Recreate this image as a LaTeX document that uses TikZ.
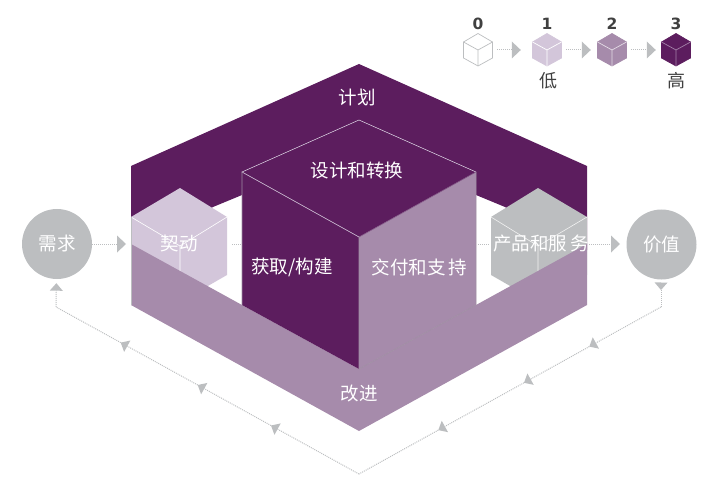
\documentclass[tikz,border=0pt]{standalone}
\usepackage{fontspec}
\setmainfont{Noto Sans CJK SC}
\newfontfamily\numfont{DejaVu Sans}
\usepackage{xcolor}
\definecolor{dark}{RGB}{92,29,94}
\definecolor{mid}{RGB}{166,139,171}
\definecolor{pale}{RGB}{211,198,218}
\definecolor{stone}{RGB}{188,190,192}
\definecolor{ink}{RGB}{64,64,64}
\usetikzlibrary{arrows.meta}
\begin{document}
\begin{tikzpicture}[x=1pt,y=-1pt,
  lab/.style={text=white,font=\fontsize{18.5}{22}\selectfont,inner sep=0pt},
  key/.style={text=ink,font=\fontsize{18}{22}\selectfont,inner sep=0pt},
  num/.style={text=ink,font=\numfont\bfseries\fontsize{15.5}{18}\selectfont,inner sep=0pt},
  round/.style={circle,fill=stone,minimum size=70pt,inner sep=0pt},
  dots/.style={draw=stone,line width=1pt,dash pattern=on 1pt off 1pt},
  flow/.style={dots,-{Triangle[length=9pt,width=17pt,fill=stone,line width=0pt]}},
  back/.style={dots,-{Triangle[length=7.5pt,width=13pt,fill=stone,line width=0pt]}},
  edge/.style={draw=#1,line width=0.6pt},
  level/.style={minimum width=30pt,minimum height=33pt,inner sep=0pt}
]
  \useasboundingbox (0,0) rectangle (720,489);

  \fill[dark] (131,166)--(359,64)--(587,166)--(587,250)--(505,207)--(476,195)--(242,195)--(213,207)--(131,250)--cycle;
  \node[lab] (plan) at (357,97) {计划};

  \fill[pale] (131,217)--(180,188)--(227,217)--(227,275)--(180,302)--(131,275)--cycle;
  \draw[edge=white] (131,217)--(180,246)--(227,217) (180,246)--(180,302);
  \fill[stone] (491,217)--(538,188)--(587,217)--(587,275)--(538,302)--(491,275)--cycle;
  \draw[edge=white!80!stone] (491,217)--(538,246)--(587,217) (538,246)--(538,302);

  \fill[mid] (131,244)--(242,305)--(359,369)--(476,305)--(587,244)--(587,305)--(359,431)--(131,305)--cycle;
  \draw[edge=stone] (131,217)--(131,305);

  \fill[dark] (242,172)--(359,120)--(476,172)--(359,237)--(359,369)--(242,305)--cycle;
  \fill[mid] (476,172)--(359,237)--(359,369)--(476,305)--cycle;
  \draw[edge=pale] (359,237)--(242,172)--(359,120)--(476,172);
  \draw[edge=dark!50!mid] (476,172)--(359,237);
  \draw[edge=stone!70!dark] (242,172)--(242,305) (359,237)--(359,369)--(476,305)--(476,172);

  \node[lab] (design) at (357,170) {设计和转换};
  \node[lab] (build) at (292,267) {获取/构建};
  \node[lab] (deliver) at (419.5,267) {交付和支\,持};
  \node[lab] (engage) at (179,243) {契动};
  \node[lab] (prod) at (541,244) {产品和服\,务};
  \node[lab] (improve) at (359,394) {改进};
  \node[round] (need) at (57,244) {};
  \node[lab] at (need.center) {需求};
  \node[round] (val) at (661.5,244.5) {};
  \node[lab] at (val.center) {价值};

  \coordinate (engL) at (126,244);
  \coordinate (valN) at (620,244);
  \draw[flow] (need) -- (engL);
  \draw[flow] (prod.east) -- (valN);
  \coordinate (dotA) at (232,244);
  \coordinate (dotB) at (241,244);
  \coordinate (dotC) at (478,244);
  \coordinate (dotD) at (489,244);
  \draw[dots] (dotA) -- (dotB);
  \draw[dots] (dotC) -- (dotD);

  \coordinate (valS) at (661,290);
  \coordinate (bendR) at (661,307);
  \coordinate (bendB) at (359,474);
  \coordinate (bendL) at (56,307);
  \coordinate (backA) at (589.3,346.6);
  \coordinate (backB) at (524,382.8);
  \coordinate (backC) at (438.3,430.1);
  \coordinate (backD) at (271,425.5);
  \coordinate (backE) at (197.7,385);
  \coordinate (backF) at (120.7,342.6);
  \draw[back,shorten <=3pt] (val) -- (valS);
  \draw[dots] (valS) -- (bendR);
  \draw[back] (bendR) -- (backA);
  \draw[back] (backA) -- (backB);
  \draw[back] (backB) -- (backC);
  \draw[dots] (backC) -- (bendB);
  \draw[back] (bendB) -- (backD);
  \draw[back] (backD) -- (backE);
  \draw[back] (backE) -- (backF);
  \draw[dots] (backF) -- (bendL);
  \draw[back,shorten >=4pt] (bendL) -- (need);

  \foreach \n/\xx/\fc/\lc/\oc in {0/478/white/stone/stone,1/547/pale/white/pale,2/612/mid/white!70!mid/mid,3/676/dark/pale!60!dark/dark}{
    \node[level] (lv\n) at (\xx,50) {};
    \filldraw[fill=\fc,draw=\oc,line width=0.7pt] (\xx-14.5,42)--(\xx,33.5)--(\xx+14.5,42)--(\xx+14.5,58)--(\xx,66)--(\xx-14.5,58)--cycle;
    \draw[draw=\lc,line width=0.7pt] (\xx-14.5,42)--(\xx,50)--(\xx+14.5,42) (\xx,50)--(\xx,66);
    \node[num] (no\n) at (\xx,24) {\n};
  }
  \draw[flow,shorten <=4pt,shorten >=11pt] (lv0) -- (lv1);
  \draw[flow,shorten <=4pt,shorten >=6pt] (lv1) -- (lv2);
  \draw[flow,shorten <=4pt,shorten >=5pt] (lv2) -- (lv3);
  \node[key] (low) at (548,81) {低};
  \node[key] (high) at (676,81) {高};
\end{tikzpicture}
\end{document}
